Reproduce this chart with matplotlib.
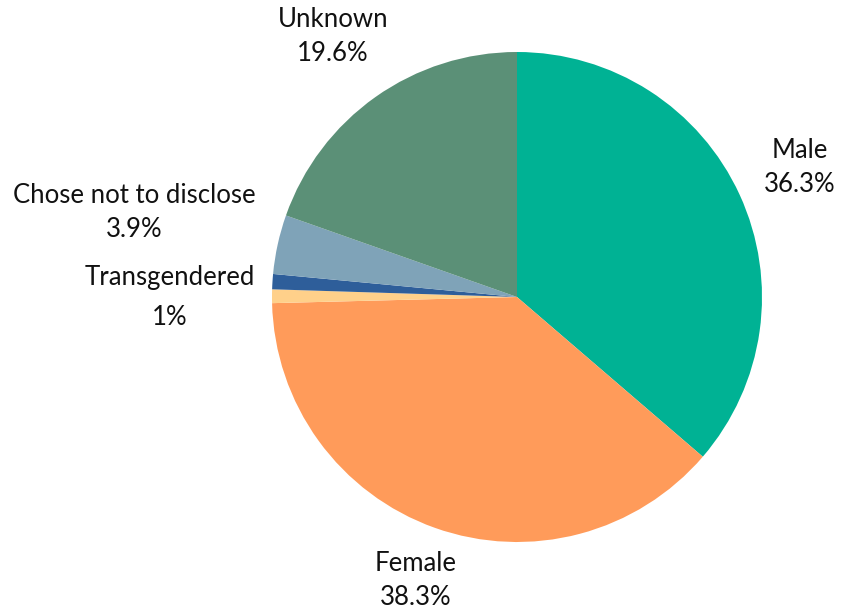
import numpy as np
import matplotlib
matplotlib.use("Agg")
from matplotlib import pyplot as plt

# slices clockwise from 12 o'clock
categories = ["Male", "Female", "Other", "Transgendered", "Chose not to disclose", "Unknown"]
shares = [36.3, 38.3, 0.9, 1.0, 3.9, 19.6]
label_texts = ["Male\n36.3%", "Female\n38.3%", "", "Transgendered\n1%",
               "Chose not to disclose\n3.9%", "Unknown\n19.6%"]
colors = ["#00B294", "#FF9B5A", "#FFD08A", "#2E5E9A", "#7FA3B8", "#5B9077"]
label_dist = [1.27, 1.23, 0, 1.42, 1.6, 1.30]
label_spacing = [1.45, 1.45, 1.45, 1.75, 1.45, 1.45]
label_nudge = [0, 0, 0, -0.09, 0, 0]  # small labels pushed apart by hand

plt.rcParams['font.family'] = ['Lato', 'DejaVu Sans']

fig = plt.figure(figsize=(8.43, 6.13), dpi=100)
ax = fig.add_axes([0, 0, 1, 1])
wedges, _ = ax.pie(shares, colors=colors, startangle=90, counterclock=False,
                   radius=1, wedgeprops=dict(linewidth=0))

for w, txt, d, ls, dy in zip(wedges, label_texts, label_dist, label_spacing, label_nudge):
    if not txt:
        continue
    mid = np.deg2rad((w.theta1 + w.theta2) / 2)
    ax.text(d * np.cos(mid), d * np.sin(mid) + dy, txt, ha='center', va='center',
            fontsize=18.5, color='#111111', linespacing=ls)

# keep pie centred where the original has it
r_px = 245
cx, cy = 517, 297
ax.set_xlim(-cx / r_px, (843 - cx) / r_px)
ax.set_ylim(-(613 - cy) / r_px, cy / r_px)
ax.set_aspect('auto')
ax.axis('off')

fig.savefig("out.png", dpi=100)
